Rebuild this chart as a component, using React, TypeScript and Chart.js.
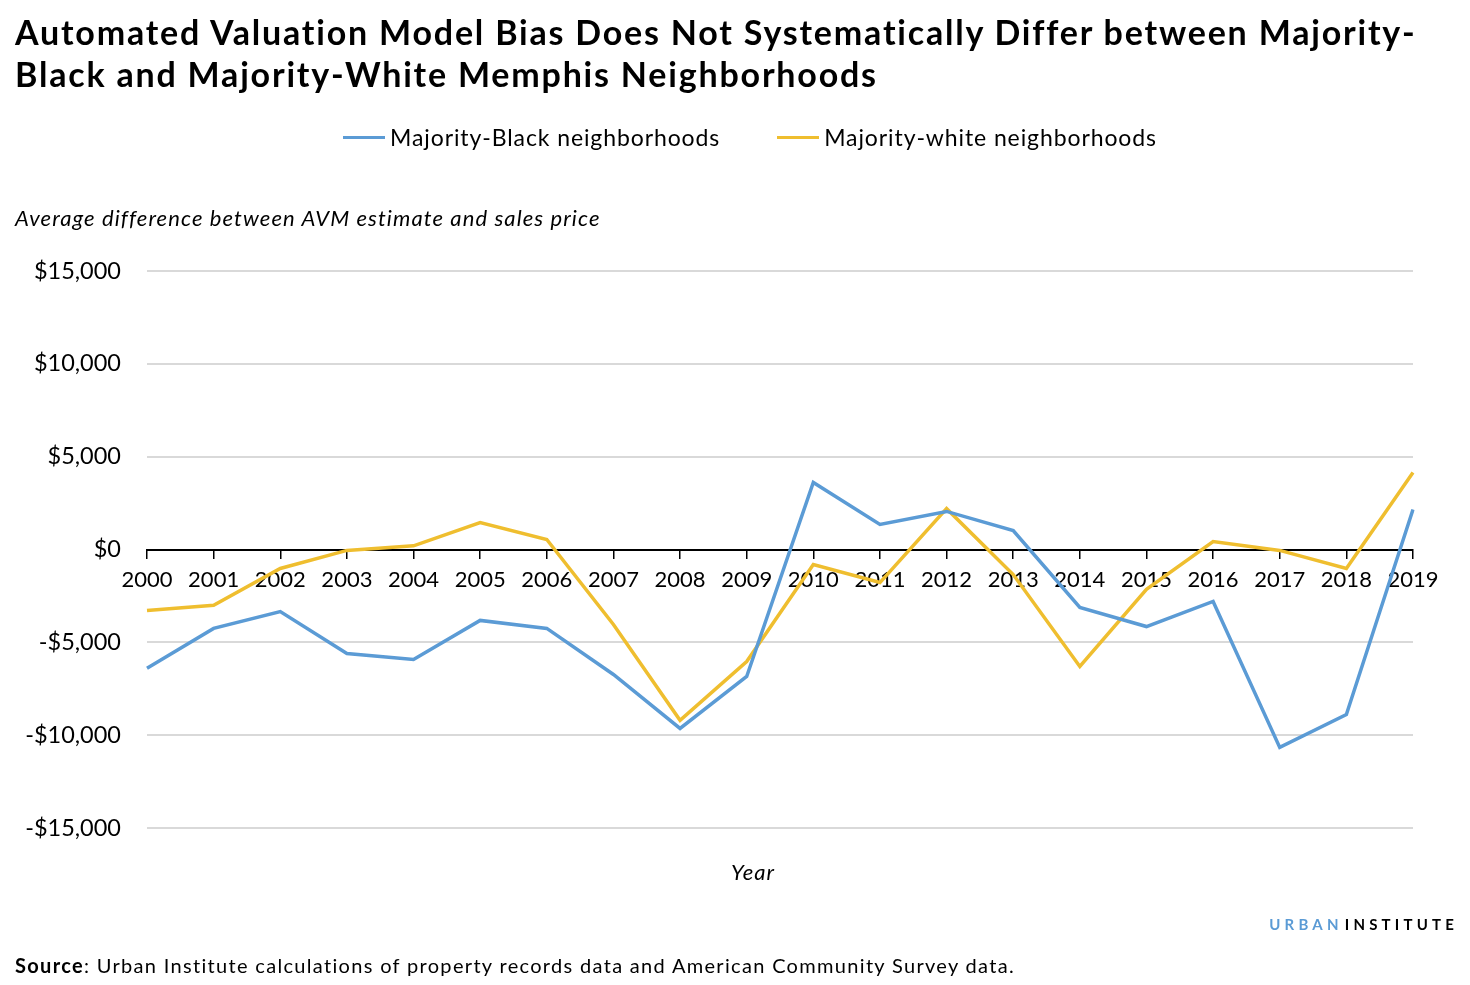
import React, { useEffect, useRef } from "react";
import { Chart, registerables } from "chart.js";

Chart.register(...registerables);

const years = ["2000","2001","2002","2003","2004","2005","2006","2007","2008","2009","2010","2011","2012","2013","2014","2015","2016","2017","2018","2019"];
const majorityBlack = [-6400,-4250,-3340,-5600,-5920,-3820,-4250,-6730,-9640,-6840,3610,1350,2050,1020,-3120,-4150,-2800,-10660,-8890,2150];
const majorityWhite = [-3280,-3000,-1020,-50,200,1450,540,-4040,-9200,-6030,-810,-1780,2200,-1350,-6300,-2150,430,-50,-1020,4150];
const seriesNames = ["Majority-Black neighborhoods", "Majority-white neighborhoods"];
const seriesColors = ["#5b9bd5", "#efbe2f"];
const yTicks = [-15000, -10000, -5000, 0, 5000, 10000, 15000];

const fmt = (v: number) => (v < 0 ? "-$" : "$") + Math.abs(v).toLocaleString("en-US");

export default function App() {
  const ref = useRef<HTMLCanvasElement | null>(null);
  useEffect(() => {
    if (!ref.current) return;
    Chart.defaults.font.family = "Lato";
    const chart = new Chart(ref.current, {
      type: "line",
      data: {
        labels: years,
        datasets: [
          { label: seriesNames[0], data: majorityBlack, borderColor: seriesColors[0], backgroundColor: seriesColors[0], borderWidth: 3.5, pointRadius: 0, tension: 0 },
          { label: seriesNames[1], data: majorityWhite, borderColor: seriesColors[1], backgroundColor: seriesColors[1], borderWidth: 3.5, pointRadius: 0, tension: 0 },
        ],
      },
      options: {
        responsive: false,
        animation: false,
        layout: { padding: { left: 0, top: 271, right: 57, bottom: 157 } },
        plugins: { legend: { display: false }, tooltip: { enabled: false } },
        scales: {
          x: {
            position: { y: 0 },
            offset: false,
            grid: { display: true, drawOnChartArea: false, drawTicks: true, tickLength: 8, color: "#000", lineWidth: 1.5 },
            border: { display: true, color: "#000", width: 2 },
            ticks: { color: "#000", font: { size: 22 }, padding: 9, maxRotation: 0, autoSkip: false },
          },
          y: {
            min: -15000,
            max: 15000,
            afterBuildTicks: (scale: any) => { scale.ticks = yTicks.map((v) => ({ value: v })); },
            afterFit: (scale: any) => { scale.width = 147; },
            grid: { color: "#d9d9d9", lineWidth: 2, drawTicks: false },
            border: { display: false },
            ticks: { color: "#000", font: { size: 23.5 }, padding: 26, callback: (v: any) => fmt(Number(v)) },
          },
        },
      },
    });
    return () => chart.destroy();
  }, []);

  const legendItem = (i: number) => (
    <div style={{ display: "flex", alignItems: "center", marginRight: i === 0 ? 57 : 0 }}>
      <div style={{ width: 42, height: 3, background: seriesColors[i], marginRight: 5 }} />
      <span>{seriesNames[i]}</span>
    </div>
  );

  return (
    <div style={{ position: "absolute", left: 0, top: 0, width: 1470, height: 985, background: "#fff", fontFamily: "Lato", color: "#000", overflow: "hidden" }}>
      <canvas ref={ref} width={1470} height={985} style={{ position: "absolute", left: 0, top: 0 }} />
      <div style={{ position: "absolute", left: 15, top: 11, fontWeight: 700, fontSize: 34, letterSpacing: "1.8px", lineHeight: "42px", whiteSpace: "nowrap" }}>
        Automated Valuation Model Bias Does Not Systematically Differ between Majority-<br />Black and Majority-White Memphis Neighborhoods
      </div>
      <div style={{ position: "absolute", left: 0, width: 1500, top: 122, display: "flex", justifyContent: "center", fontSize: 23, letterSpacing: "0.9px", lineHeight: "30px", whiteSpace: "nowrap" }}>
        {legendItem(0)}
        {legendItem(1)}
      </div>
      <div style={{ position: "absolute", left: 15, top: 204, fontStyle: "italic", fontSize: 22, letterSpacing: "1.1px", lineHeight: "28px", whiteSpace: "nowrap" }}>
        Average difference between AVM estimate and sales price
      </div>
      <div style={{ position: "absolute", left: 731, top: 858, fontStyle: "italic", fontSize: 22, letterSpacing: "1px", lineHeight: "28px" }}>Year</div>
      <div style={{ position: "absolute", right: 12, top: 914, fontWeight: 700, fontSize: 15, letterSpacing: "4.2px", lineHeight: "20px", whiteSpace: "nowrap" }}>
        <span style={{ color: "#5b9bd5" }}>URBAN</span><span style={{ marginLeft: 2 }}>INSTITUTE</span>
      </div>
      <div style={{ position: "absolute", left: 15, top: 952, fontSize: 20, letterSpacing: "1.32px", lineHeight: "26px", whiteSpace: "nowrap" }}>
        <b>Source</b>: Urban Institute calculations of property records data and American Community Survey data.
      </div>
    </div>
  );
}
